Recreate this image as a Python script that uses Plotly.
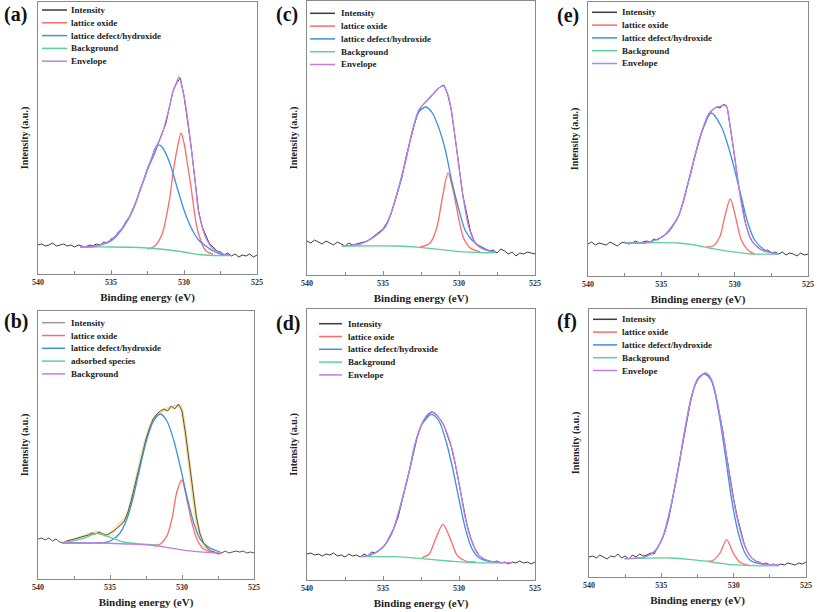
import plotly.graph_objects as go

# ---------------- data (heights in arbitrary intensity units) ----------------
E_RAW = [540 - 0.25 * i for i in range(61)]
X_TICKS = [540, 535, 530, 525]
PANEL_LABELS = ["(a)", "(c)", "(e)", "(b)", "(d)", "(f)"]

# (a)
A_INT = [29, 30, 28, 29, 31, 28, 29, 30, 28, 29, 27, 29, 28, 27, 29, 28, 30, 29, 32, 31, 35,
         37, 42, 45, 52, 57, 65, 73, 85, 94, 106, 114, 125, 131, 141, 150, 167, 183, 191, 196,
         178, 154, 126, 94, 63, 47, 38, 30, 27, 23, 22, 19, 21, 18, 20, 17, 19, 18, 20, 17, 19]
A_BG_X = [537.1, 535.0, 533.0, 532.0, 531.0, 530.0, 529.0, 528.0, 526.9]
A_BG_Y = [27, 27, 26.5, 25.5, 24, 22, 19.5, 18.5, 18.3]
A_OX_X = [532.5, 532.0, 531.5, 531.0, 530.75, 530.5, 530.2, 530.0, 529.75, 529.5, 529.25, 529.0, 528.5, 528.0]
A_OX_Y = [25, 28, 40, 74, 101, 123, 141, 131, 109, 85, 58, 40, 23, 20]
A_DEF_X = [537.1, 536.0, 535.0, 534.5, 534.0, 533.5, 533.0, 532.5, 532.0, 531.75, 531.5, 531.0,
           530.5, 530.0, 529.5, 529.0, 528.5, 528.0, 527.5, 526.9]
A_DEF_Y = [27, 28, 33, 40, 50, 64, 84, 104, 121, 129, 127, 112, 88, 64, 46, 34, 28, 23, 20, 18.5]
A_ENV_X = [537.1, 536.0, 535.0, 534.5, 534.0, 533.5, 533.0, 532.5, 532.0, 531.5, 531.0, 530.75,
           530.5, 530.35, 530.0, 529.75, 529.5, 529.25, 529.0, 528.5, 528.0, 527.5, 526.9]
A_ENV_Y = [27, 28, 34, 41, 51, 64, 84, 105, 124, 140, 167, 183, 192, 197, 178, 155, 125, 95, 62,
           36, 25, 21, 18.3]

# (c)
C_INT = [34, 32, 35, 33, 31, 34, 32, 30, 33, 31, 29, 32, 30, 31, 32, 33, 34, 37, 40, 43, 46,
         52, 60, 72, 85, 98, 117, 133, 147, 160, 168, 172, 176, 180, 184, 188, 190, 181, 165, 138,
         108, 80, 62, 44, 34, 30, 28, 26, 24, 25, 22, 26, 24, 21, 23, 19, 22, 21, 23, 22, 21]
C_BG_X = [537.7, 534.0, 532.65, 531.35, 530.0, 528.6, 527.6]
C_BG_Y = [29, 29, 27.7, 25.7, 23.3, 22.3, 22.3]
C_OX_X = [532.55, 531.9, 531.45, 531.12, 530.72, 530.35, 530.0, 529.7, 529.25, 528.6]
C_OX_Y = [28, 32, 48, 75, 102, 82, 55, 37, 27, 23]
C_DEF_X = [537.7, 536.5, 535.7, 534.85, 534.2, 533.5, 533.1, 532.65, 532.17, 531.75, 531.35,
           530.9, 530.45, 530.0, 529.6, 529.15, 528.5, 527.6]
C_DEF_Y = [29, 31, 37, 48, 75, 115, 142, 163, 168, 162, 148, 125, 92, 65, 45, 35, 27, 23]
C_ENV_X = [537.7, 536.5, 535.7, 534.85, 534.2, 533.5, 533.1, 532.65, 532.2, 531.78, 531.34,
           531.0, 530.68, 530.35, 530.0, 529.7, 529.36, 528.93, 528.27, 527.6]
C_ENV_Y = [29, 31, 37, 48, 75, 115, 142, 165, 173, 180, 187, 189, 178, 148, 108, 75, 48, 32, 25, 23]

# (e)
E_INT = [32, 34, 31, 33, 32, 31, 34, 32, 30, 33, 34, 32, 33, 35, 33, 34, 35, 34, 37, 36, 39,
         41, 44, 49, 55, 63, 74, 89, 102, 118, 130, 144, 153, 163, 166, 169, 168, 172, 168, 145,
         119, 92, 72, 52, 40, 33, 30, 27, 25, 26, 23, 24, 22, 24, 21, 23, 22, 20, 23, 21, 22]
E_BG_X = [537.5, 533.86, 532.73, 531.6, 530.23, 528.86, 527.05]
E_BG_Y = [33, 33, 31, 27.7, 24.3, 22, 22]
E_OX_X = [531.93, 531.48, 531.02, 530.68, 530.3, 529.89, 529.55, 529.1, 528.64]
E_OX_Y = [29, 30, 39, 59, 77, 56, 36, 26, 22]
E_DEF_X = [537.5, 536.13, 535.23, 534.77, 533.86, 533.18, 532.73, 532.27, 531.6, 530.9, 530.23,
           529.55, 529.1, 528.64, 527.95, 527.05]
E_DEF_Y = [33, 33, 37, 41, 59, 93, 119, 143, 163, 149, 119, 79, 53, 36, 26, 22]
E_ENV_X = [537.5, 536.13, 535.23, 534.77, 533.86, 533.18, 532.73, 532.27, 531.82, 531.36, 530.9,
           530.6, 530.34, 530.0, 529.66, 529.32, 528.86, 528.18, 527.05]
E_ENV_Y = [33, 33, 37, 41, 59, 93, 119, 143, 161, 168, 170, 171, 153, 119, 83, 56, 36, 26, 22]

# (b)
B_INT = [40, 41, 39, 41, 38, 40, 37, 36, 38, 39, 40, 41, 42, 43, 44, 46, 45, 47, 45, 44, 46,
         48, 51, 54, 58, 67, 80, 95, 111, 126, 140, 151, 160, 165, 168, 170, 168, 173, 170, 175,
         168, 145, 117, 86, 62, 45, 36, 31, 28, 27, 25, 26, 28, 26, 27, 28, 27, 28, 26, 27, 26]
B_BG_X = [538.34, 535.68, 533.83, 532.2, 531.05, 529.67, 528.28, 527.24]
B_BG_Y = [36, 36, 35, 34, 31.7, 28.3, 26.7, 26]
B_ADS_X = [538.34, 536.84, 535.9, 534.98, 534.06, 532.9, 531.7]
B_ADS_Y = [36, 40.7, 45.7, 41.7, 37, 35, 34]
B_OX_X = [531.98, 531.5, 531.05, 530.7, 530.36, 530.01, 529.67, 529.32, 528.97, 528.5, 527.82]
B_OX_Y = [33, 35, 43, 60, 87, 99, 80, 57, 40, 30, 26.7]
B_DEF_X = [538.34, 536.84, 535.68, 534.98, 534.3, 533.83, 533.37, 532.9, 532.44, 531.98, 531.5,
           531.05, 530.6, 530.13, 529.67, 529.2, 528.75, 528.17, 527.36]
B_DEF_Y = [36, 36, 36, 38, 46, 60, 83, 113, 140, 158, 165, 158, 140, 113, 83, 57, 40, 32, 27]
B_ENV_X = [538.34, 537.3, 536.37, 535.9, 535.2, 534.52, 533.83, 533.37, 532.9, 532.44, 531.98,
           531.5, 531.05, 530.6, 530.13, 529.9, 529.56, 529.2, 528.86, 528.4, 527.82, 527.24]
B_ENV_Y = [36, 40, 45, 46.7, 43, 52, 63, 87, 117, 143, 160, 167, 170, 172, 173, 160, 123, 80, 50,
           33, 27, 26]

# (d)
D_INT = [26, 27, 25, 26, 24, 26, 25, 27, 24, 25, 23, 26, 24, 25, 23, 26, 24, 28, 27, 30, 33,
         38, 45, 53, 63, 80, 95, 110, 128, 143, 154, 161, 166, 168, 165, 161, 155, 145, 133, 116,
         97, 78, 57, 43, 33, 26, 22, 20, 19, 18, 19, 17, 18, 16, 18, 17, 19, 17, 18, 16, 18]
D_BG_X = [536.38, 534.18, 532.42, 530.67, 529.13, 526.5]
D_BG_Y = [23.3, 23.3, 21.3, 19, 17.3, 17.3]
D_OX_X = [532.42, 531.98, 531.55, 531.06, 530.56, 530.12, 529.57, 528.91]
D_OX_Y = [22.3, 25.7, 40.7, 55.7, 40.7, 24.7, 19, 18]
D_DEF_X = [536.38, 535.72, 535.06, 534.4, 533.74, 533.3, 532.87, 532.42, 531.81, 531.32, 530.89,
           530.45, 530.0, 529.57, 529.13, 528.69, 527.81, 526.5]
D_DEF_Y = [23.3, 25.7, 32, 47.3, 80.7, 107, 137, 156, 165.7, 159, 140.7, 114, 80.7, 50.7, 30.7,
           22.3, 18, 17.3]
D_ENV_X = [536.38, 535.72, 535.06, 534.4, 533.74, 533.3, 532.87, 532.42, 531.98, 531.72, 531.32,
           530.89, 530.45, 530.0, 529.57, 529.13, 528.69, 528.03, 526.5]
D_ENV_Y = [23.3, 25.7, 32, 47.3, 80.7, 107.3, 137.3, 157.3, 166.7, 168, 162.3, 150.7, 130.7, 97.3,
           60.7, 37.3, 24.7, 19, 17.3]

# (f)
F_INT = [20, 21, 19, 22, 20, 18, 21, 20, 23, 19, 21, 18, 22, 20, 23, 21, 22, 24, 23, 29, 36,
         45, 58, 76, 96, 115, 136, 157, 174, 189, 197, 201, 204, 202, 196, 183, 166, 146, 122, 98,
         78, 60, 45, 32, 24, 19, 16, 15, 13, 14, 12, 13, 11, 13, 12, 14, 13, 12, 14, 13, 15]
F_BG_X = [537.53, 534.29, 532.91, 531.52, 530.14, 528.75, 526.9]
F_BG_Y = [18.3, 19, 17.3, 15, 12.3, 11.3, 11.3]
F_OX_X = [531.87, 531.41, 530.95, 530.49, 530.03, 529.56, 528.87]
F_OX_Y = [15.7, 16.7, 24, 37.3, 24, 14.7, 11.3]
F_DEF_X = [537.53, 536.14, 535.45, 534.88, 534.29, 533.84, 533.37, 532.91, 532.45, 531.99, 531.52,
           531.07, 530.6, 530.14, 529.68, 529.22, 528.75, 527.83]
F_DEF_Y = [18.3, 20, 25.7, 40.7, 74, 107.3, 147.3, 180.7, 199, 203, 195.7, 167.3, 124, 77.3, 44,
           24, 15.7, 12.3]
F_ENV_X = [537.53, 536.14, 535.45, 534.88, 534.29, 533.84, 533.37, 532.91, 532.45, 531.94, 531.52,
           531.07, 530.6, 530.14, 529.68, 529.22, 528.75, 528.06, 526.9]
F_ENV_Y = [18.3, 20, 25.7, 40.7, 74, 107.3, 147.3, 180.7, 199, 204, 197.3, 170.7, 130.7, 87.3, 54,
           30.7, 19, 13.3, 12.3]

# ---------------- styling ----------------
W, H = 817, 612
SERIF = "Liberation Serif, Times New Roman, serif"
C_INTENS = "#3c3c3c"
C_OXIDE = "#ff6a6a"
C_DEFECT = "#3f8fe0"
C_GREEN = "#5fcf9f"
C_PURPLE = "#c27ee6"
C_YELLOW = "#f6e2a2"
FRAME = "#8a8a8a"

# panel boxes in page pixels: left, right, top, bottom, y-range top
BOXES = [
    (38, 257, 2, 274, 272),
    (307, 535, 1, 275, 274),
    (588, 808, 2, 276, 274),
    (38, 254, 311, 579, 268),
    (307, 535, 309, 580, 271),
    (589, 806, 309, 577, 268),
]
LABEL_POS = [(2, 14), (274, 14), (555, 15), (2, 321), (274, 323), (555, 321)]
# legend key: swatch start, swatch end, text start, first row y
LEGEND_POS = [(42, 67, 69, 10), (310, 335, 339, 13.3), (592, 617, 620, 12.3),
              (42, 65, 69, 322.7), (319, 342, 346, 323.7), (593, 617, 620, 319.3)]
LEGEND_STEP = 12.8

fig = go.Figure()
legend_items = {i: [] for i in range(6)}


def add(panel, x, y, name, color, shape="spline", width=1.3, key=True):
    idx = panel + 1
    sfx = "" if idx == 1 else str(idx)
    fig.add_trace(go.Scatter(
        x=x, y=y, name=name, mode="lines",
        line=dict(color=color, width=width, shape=shape, smoothing=0.8 if shape == "spline" else None),
        xaxis="x" + sfx, yaxis="y" + sfx, showlegend=False,
    ))
    if key:
        legend_items[panel].append((name, color))


standard = [
    (A_INT, A_OX_X, A_OX_Y, A_DEF_X, A_DEF_Y, A_BG_X, A_BG_Y, A_ENV_X, A_ENV_Y),
    (C_INT, C_OX_X, C_OX_Y, C_DEF_X, C_DEF_Y, C_BG_X, C_BG_Y, C_ENV_X, C_ENV_Y),
    (E_INT, E_OX_X, E_OX_Y, E_DEF_X, E_DEF_Y, E_BG_X, E_BG_Y, E_ENV_X, E_ENV_Y),
    None,
    (D_INT, D_OX_X, D_OX_Y, D_DEF_X, D_DEF_Y, D_BG_X, D_BG_Y, D_ENV_X, D_ENV_Y),
    (F_INT, F_OX_X, F_OX_Y, F_DEF_X, F_DEF_Y, F_BG_X, F_BG_Y, F_ENV_X, F_ENV_Y),
]

for p, d in enumerate(standard):
    if d is None:
        # panel (b)
        add(p, B_ENV_X, B_ENV_Y, "Envelope", C_YELLOW, width=3.2, key=False)
        add(p, E_RAW, B_INT, "Intensity", "#5a5248", shape="linear", width=1.0)
        legend_items[p][-1] = ("Intensity", "#9a9a9a")
        add(p, B_OX_X, B_OX_Y, "lattice oxide", C_OXIDE)
        add(p, B_DEF_X, B_DEF_Y, "lattice defect/hydroxide", C_DEFECT)
        add(p, B_ADS_X, B_ADS_Y, "adsorbed species", C_GREEN)
        add(p, B_BG_X, B_BG_Y, "Background", C_PURPLE)
        continue
    inten, oxx, oxy, dfx, dfy, bgx, bgy, evx, evy = d
    add(p, E_RAW, inten, "Intensity", C_INTENS, shape="linear", width=1.0)
    add(p, oxx, oxy, "lattice oxide", C_OXIDE)
    add(p, dfx, dfy, "lattice defect/hydroxide", C_DEFECT)
    add(p, bgx, bgy, "Background", C_GREEN)
    add(p, evx, evy, "Envelope", C_PURPLE)

layout = dict(
    width=W, height=H, margin=dict(l=0, r=0, t=0, b=0, autoexpand=False),
    paper_bgcolor="white", plot_bgcolor="white",
    font=dict(family=SERIF, color="#222"),
    annotations=[], shapes=[], showlegend=False,
)

for i, (l, r, t, b, ytop) in enumerate(BOXES):
    idx = i + 1
    sfx = "" if idx == 1 else str(idx)
    layout["xaxis" + sfx] = dict(
        domain=[l / W, r / W], anchor="y" + sfx, range=[540, 525],
        tickvals=X_TICKS, ticks="inside", ticklen=4, tickcolor=FRAME,
        minor=dict(tickvals=[537.5, 532.5, 527.5], ticks="inside", ticklen=3, tickcolor=FRAME),
        showline=True, linecolor=FRAME, linewidth=1, mirror=True, showgrid=False, zeroline=False,
        tickfont=dict(family=SERIF, size=8, color="#333", weight="bold"),
        ticklabeloverflow="allow",
        title=dict(text="Binding energy (eV)", standoff=7,
                   font=dict(family=SERIF, size=11, color="#222", weight="bold")),
        automargin=False, fixedrange=True,
    )
    layout["yaxis" + sfx] = dict(
        domain=[1 - b / H, 1 - t / H], anchor="x" + sfx, range=[0, ytop],
        showticklabels=False, ticks="", showline=True, linecolor=FRAME, linewidth=1, mirror=True,
        showgrid=False, zeroline=False,
        title=dict(text="Intensity (a.u.)", standoff=6,
                   font=dict(family=SERIF, size=10, color="#222", weight="bold")),
        automargin=False, fixedrange=True,
    )
    sx0, sx1, tx, y0 = LEGEND_POS[i]
    for k, (name, color) in enumerate(legend_items[i]):
        yy = 1 - (y0 + k * LEGEND_STEP) / H
        layout["shapes"].append(dict(
            type="line", xref="paper", yref="paper", x0=sx0 / W, x1=sx1 / W, y0=yy, y1=yy,
            line=dict(color=color, width=1.5),
        ))
        layout["annotations"].append(dict(
            text=name, x=tx / W, y=yy, xref="paper", yref="paper",
            xanchor="left", yanchor="middle", showarrow=False,
            font=dict(family=SERIF, size=9, color="#222", weight="bold"),
        ))
    ax, ay = LABEL_POS[i]
    layout["annotations"].append(dict(
        text=PANEL_LABELS[i], x=ax / W, y=1 - ay / H, xref="paper", yref="paper",
        xanchor="left", yanchor="middle", showarrow=False,
        font=dict(family=SERIF, size=20, color="#111", weight="bold"),
    ))

fig.update_layout(**layout)
fig.write_html("out.html", config={"displayModeBar": False},
               post_script="document.body.style.margin='0px';")
